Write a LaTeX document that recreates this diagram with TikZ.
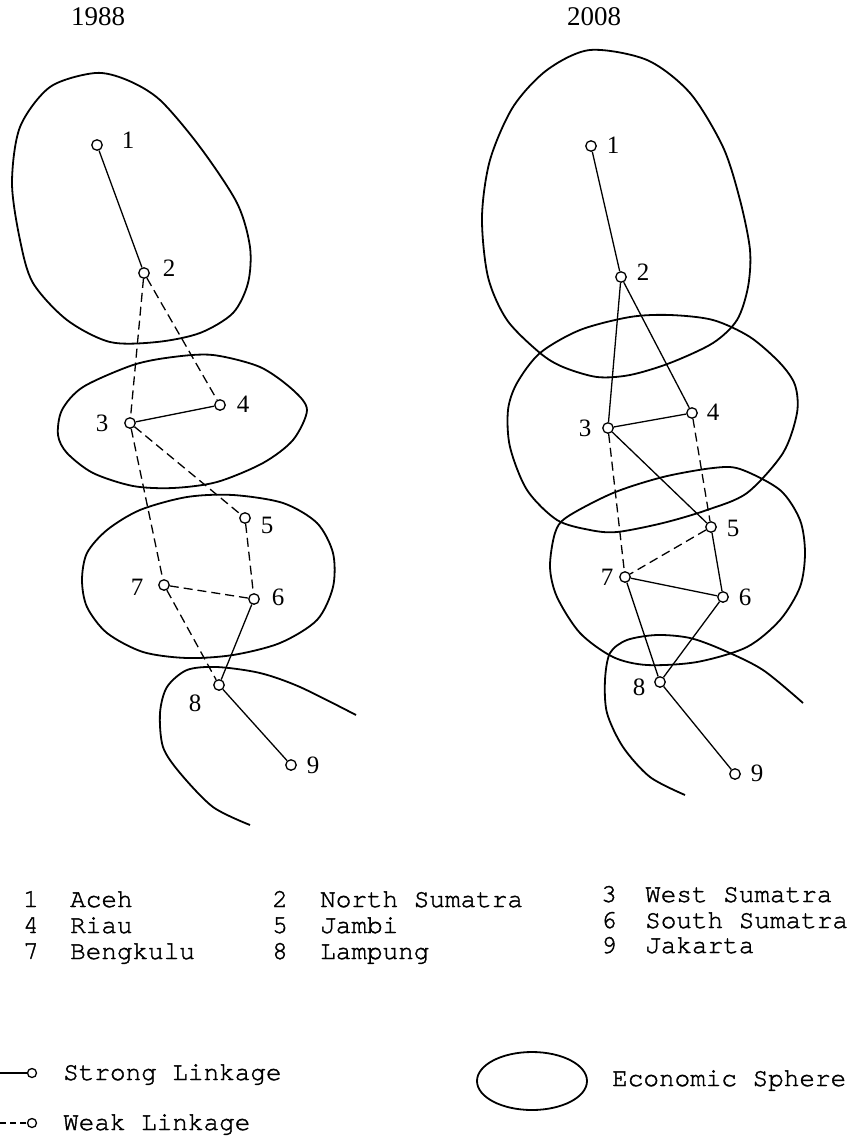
\documentclass[tikz,border=0pt]{standalone}
\usepackage{fontspec}
\usetikzlibrary{shapes.geometric}
\newfontfamily\lblfont{Liberation Serif}
\newfontfamily\legfont[FakeBold=1.5]{texgyrecursor-regular.otf}
\begin{document}
\begin{tikzpicture}[x=1pt,y=-1pt,
  pt/.style={circle, draw, fill=white, inner sep=0pt, minimum size=10.5pt, line width=1.3pt},
  num/.style={font=\lblfont\fontsize{25}{25}\selectfont, inner sep=0pt},
  yr/.style={font=\lblfont\fontsize{27}{27}\selectfont, inner sep=0pt},
  strong/.style={line width=1.3pt},
  weak/.style={line width=1.3pt, dash pattern=on 9pt off 5pt},
  sphere/.style={line width=1.8pt},
  leg/.style={font=\legfont\fontsize{26}{26}\selectfont, inner sep=0pt, anchor=base west},
  legpt/.style={circle, draw, fill=white, inner sep=0pt, minimum size=9pt, line width=1.3pt}]
\useasboundingbox (0,0) rectangle (855,1138);

% years
\node[yr] (y1) at (98,17) {1988};
\node[yr] (y2) at (594,17) {2008};

% ---------- 1988 spheres ----------
\draw[sphere] plot[smooth cycle] coordinates {(95,73) (127,80) (160,100) (200,147) (237,203) (250,247) (248,283) (233,313) (200,333) (157,342) (110,342) (67,320) (33,283) (20,240) (12,183) (20,127) (50,87)};
\draw[sphere] plot[smooth cycle] coordinates {(83,387) (62,410) (58,435) (67,453) (93,473) (133,486) (173,488) (217,482) (263,463) (293,440) (307,410) (293,390) (260,367) (213,355) (173,357) (133,365)};
\draw[sphere] plot[smooth cycle] coordinates {(82,580) (87,607) (107,633) (143,652) (187,658) (233,655) (280,643) (317,620) (333,587) (333,553) (317,523) (283,503) (233,495) (187,497) (140,510) (107,530) (87,553)};
\draw[sphere] plot[smooth] coordinates {(356,715) (300,687) (260,673) (217,667) (187,670) (167,687) (160,713) (163,747) (180,773) (213,807) (250,825)};

% ---------- 2008 spheres ----------
\draw[sphere] plot[smooth cycle] coordinates {(590,50) (647,60) (690,93) (723,147) (740,200) (750,250) (748,287) (737,320) (713,343) (670,363) (630,375) (597,377) (563,367) (540,353) (507,320) (488,277) (482,217) (490,160) (513,107) (547,70)};
\draw[sphere] plot[smooth cycle] coordinates {(508,410) (510,447) (527,490) (557,520) (590,530) (617,532) (663,523) (707,510) (747,493) (783,453) (797,413) (795,385) (780,363) (750,337) (713,320) (670,315) (630,317) (580,330) (540,353) (517,383)};
\draw[sphere] plot[smooth cycle] coordinates {(567,517) (613,493) (663,477) (713,468) (740,469) (780,490) (800,520) (805,553) (800,587) (780,620) (747,647) (697,662) (647,665) (613,657) (580,633) (557,597) (550,567) (555,533)};
\draw[sphere] plot[smooth] coordinates {(803,703) (763,670) (723,650) (690,638) (657,635) (627,640) (610,653) (605,680) (607,713) (623,747) (650,777) (685,795)};

% ---------- 1988 nodes ----------
\node[pt] (a1) at (97,145) {};
\node[pt] (a2) at (144,273) {};
\node[pt] (a3) at (130,423) {};
\node[pt] (a4) at (220,405) {};
\node[pt] (a5) at (245,518) {};
\node[pt] (a6) at (254,599) {};
\node[pt] (a7) at (164,585) {};
\node[pt] (a8) at (219,685) {};
\node[pt] (a9) at (291,765) {};
\node[num] (la1) at (128,140) {1};
\node[num] (la2) at (169,268) {2};
\node[num] (la3) at (102,423) {3};
\node[num] (la4) at (243,404) {4};
\node[num] (la5) at (267,525) {5};
\node[num] (la6) at (278,597) {6};
\node[num] (la7) at (137,587) {7};
\node[num] (la8) at (195,703) {8};
\node[num] (la9) at (313,765) {9};

\draw[strong] (a1) -- (a2);
\draw[weak] (a2) -- (a3);
\draw[weak] (a2) -- (a4);
\draw[strong] (a3) -- (a4);
\draw[weak] (a3) -- (a5);
\draw[weak] (a3) -- (a7);
\draw[weak] (a5) -- (a6);
\draw[weak] (a7) -- (a6);
\draw[weak] (a7) -- (a8);
\draw[strong] (a6) -- (a8);
\draw[strong] (a8) -- (a9);

% ---------- 2008 nodes ----------
\node[pt] (b1) at (591,146) {};
\node[pt] (b2) at (621,277) {};
\node[pt] (b3) at (608,428) {};
\node[pt] (b4) at (692,413) {};
\node[pt] (b5) at (711,527) {};
\node[pt] (b6) at (723,597) {};
\node[pt] (b7) at (625,577) {};
\node[pt] (b8) at (660,682) {};
\node[pt] (b9) at (735,774) {};
\node[num] (lb1) at (613,145) {1};
\node[num] (lb2) at (643,272) {2};
\node[num] (lb3) at (585,428) {3};
\node[num] (lb4) at (713,412) {4};
\node[num] (lb5) at (733,528) {5};
\node[num] (lb6) at (745,597) {6};
\node[num] (lb7) at (607,577) {7};
\node[num] (lb8) at (639,687) {8};
\node[num] (lb9) at (757,773) {9};

\draw[strong] (b1) -- (b2);
\draw[strong] (b2) -- (b3);
\draw[strong] (b2) -- (b4);
\draw[strong] (b3) -- (b4);
\draw[strong] (b3) -- (b5);
\draw[weak] (b3) -- (b7);
\draw[weak] (b4) -- (b5);
\draw[weak] (b5) -- (b7);
\draw[strong] (b5) -- (b6);
\draw[strong] (b7) -- (b6);
\draw[strong] (b7) -- (b8);
\draw[strong] (b6) -- (b8);
\draw[strong] (b8) -- (b9);

% ---------- key of provinces ----------
\node[leg] (k1) at (23,907) {1};  \node[leg] (k1t) at (70,907) {Aceh};
\node[leg] (k4) at (23,933) {4};  \node[leg] (k4t) at (70,933) {Riau};
\node[leg] (k7) at (23,959) {7};  \node[leg] (k7t) at (70,959) {Bengkulu};
\node[leg] (k2) at (272,907) {2}; \node[leg] (k2t) at (320,907) {North Sumatra};
\node[leg] (k5) at (272,933) {5}; \node[leg] (k5t) at (320,933) {Jambi};
\node[leg] (k8) at (272,959) {8}; \node[leg] (k8t) at (320,959) {Lampung};
\node[leg] (k3) at (601,902) {3}; \node[leg] (k3t) at (645,902) {West Sumatra};
\node[leg] (k6) at (601,928) {6}; \node[leg] (k6t) at (645,928) {South Sumatra};
\node[leg] (k9) at (601,953) {9}; \node[leg] (k9t) at (645,953) {Jakarta};

% ---------- line / sphere key ----------
\coordinate (s0) at (0,1073);
\node[legpt] (s1) at (32,1073) {};
\draw[strong] (s0) -- (s1);
\node[leg] (st) at (63,1080) {Strong Linkage};
\coordinate (w0) at (0,1123);
\node[legpt] (w1) at (32,1123) {};
\draw[line width=1.3pt, dash pattern=on 6pt off 4pt] (w0) -- (w1);
\node[leg] (wt) at (63,1130) {Weak Linkage};
\node[draw, sphere, ellipse, minimum width=110pt, minimum height=58pt, inner sep=0pt] (es) at (532,1081) {};
\node[leg] (et) at (612,1086) {Economic Sphere};
\end{tikzpicture}
\end{document}
